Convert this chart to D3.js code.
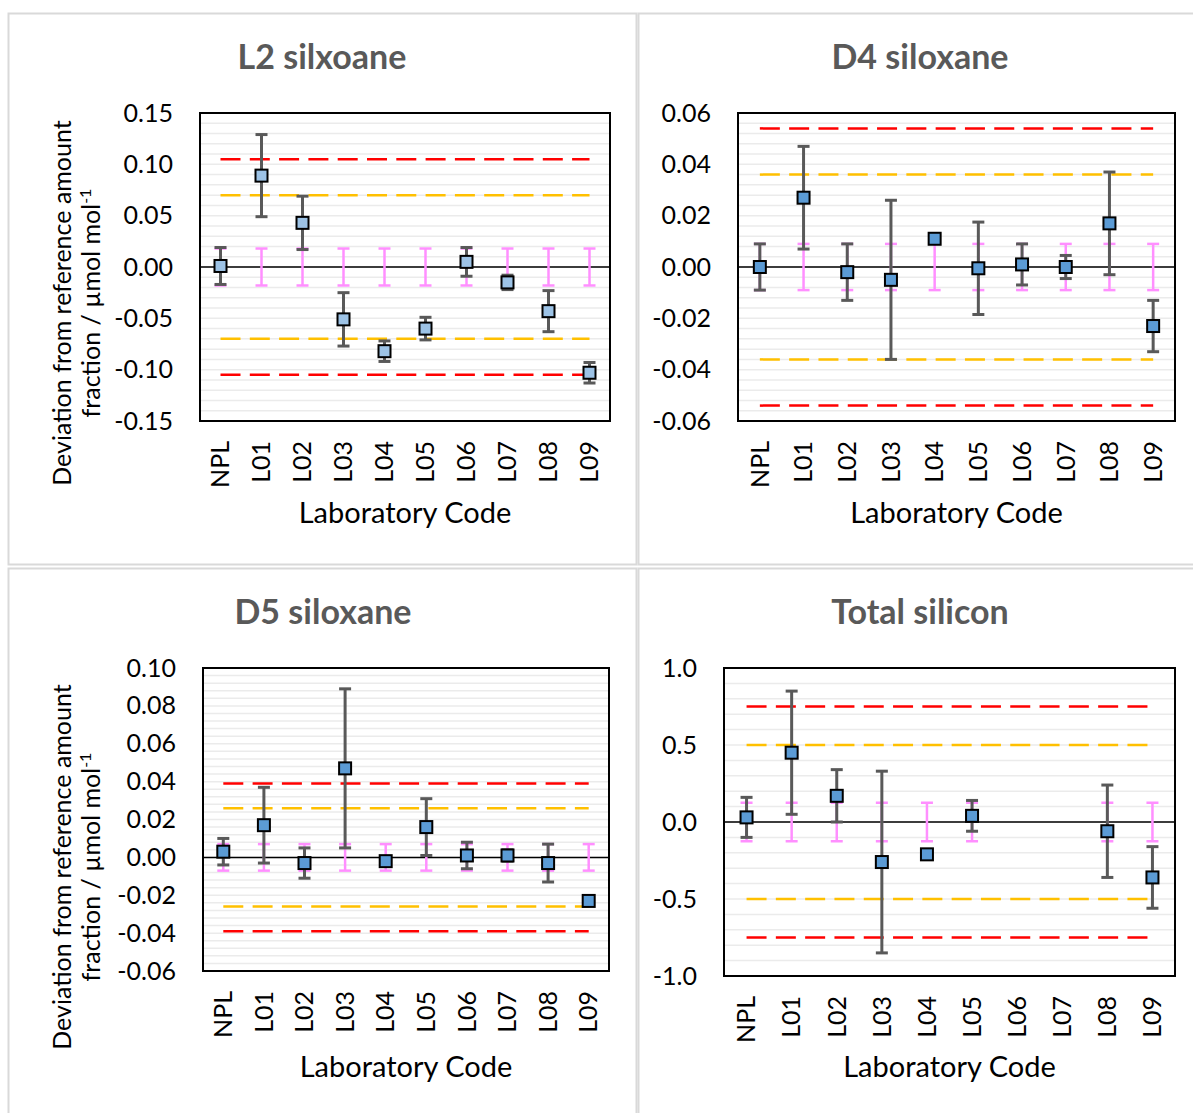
<!DOCTYPE html>
<html>
<head>
<meta charset="utf-8">
<script src="https://cdn.jsdelivr.net/npm/d3@7"></script>
<style>
  body { margin: 0; background: #fff; }
  svg { display: block; font-family: Lato, "Open Sans", sans-serif; }
</style>
</head>
<body>
<svg id="chart" width="1193" height="1113"></svg>
<script>
// lab codes (x categories)
var labs = ["NPL", "L01", "L02", "L03", "L04", "L05", "L06", "L07", "L08", "L09"];

// L2 siloxane: deviation and expanded uncertainty per lab
var l2Values = [0.001, 0.089, 0.043, -0.051, -0.082, -0.060, 0.005, -0.015, -0.043, -0.103];
var l2Errors = [0.018, 0.040, 0.026, 0.026, 0.010, 0.011, 0.014, 0.007, 0.020, 0.010];
var l2Limits = [0.105, 0.070];   // action (red), warning (orange)
var l2RefUnc = 0.018;             // reference uncertainty (pink)

// D4 siloxane
var d4Values = [0.000, 0.027, -0.002, -0.005, 0.011, -0.0005, 0.001, 0.000, 0.017, -0.023];
var d4Errors = [0.009, 0.020, 0.011, 0.031, null, 0.018, 0.008, 0.0045, 0.020, 0.010];
var d4Limits = [0.054, 0.036];
var d4RefUnc = 0.009;

// D5 siloxane
var d5Values = [0.003, 0.017, -0.003, 0.047, -0.002, 0.016, 0.001, 0.001, -0.003, -0.023];
var d5Errors = [0.007, 0.020, 0.008, 0.042, null, 0.015, 0.007, 0.003, 0.010, 0.002];
var d5Limits = [0.039, 0.026];
var d5RefUnc = 0.007;

// Total silicon (L06, L07 reported nothing)
var siValues = [0.03, 0.45, 0.17, -0.26, -0.21, 0.04, null, null, -0.06, -0.36];
var siErrors = [0.13, 0.40, 0.17, 0.59, null, 0.10, null, null, 0.30, 0.20];
var siLimits = [0.75, 0.50];
var siRefUnc = 0.125;

var panels = [
  { title: "L2 silxoane", values: l2Values, errors: l2Errors, limits: l2Limits, refUnc: l2RefUnc,
    domain: [-0.15, 0.15], step: 0.05, minor: 0.01, digits: 2, fill: "#9dc3e6",
    frame: [8, 13, 636, 564], plot: [200, 113, 610, 421], titleX: 322, titleY: 69,
    xTitleY: 523, yTitle: true, yTitleCy: 303 },
  { title: "D4 siloxane", values: d4Values, errors: d4Errors, limits: d4Limits, refUnc: d4RefUnc,
    domain: [-0.06, 0.06], step: 0.02, minor: 0.004, digits: 2, fill: "#5b9bd5",
    frame: [638, 13, 1210, 564], plot: [738, 113, 1175, 421], titleX: 920, titleY: 69,
    xTitleY: 523, yTitle: false },
  { title: "D5 siloxane", values: d5Values, errors: d5Errors, limits: d5Limits, refUnc: d5RefUnc,
    domain: [-0.06, 0.10], step: 0.02, minor: 0.004, digits: 2, fill: "#5b9bd5",
    frame: [8, 568, 636, 1125], plot: [203, 668, 609, 971], titleX: 323, titleY: 624,
    xTitleY: 1077, yTitle: true, yTitleCy: 867 },
  { title: "Total silicon", values: siValues, errors: siErrors, limits: siLimits, refUnc: siRefUnc,
    domain: [-1, 1], step: 0.5, minor: 0.1, digits: 1, fill: "#5b9bd5",
    frame: [638, 568, 1210, 1125], plot: [724, 668, 1175, 976], titleX: 920, titleY: 624,
    xTitleY: 1077, yTitle: false }
];

var svg = d3.select("#chart");

function fmt(d, digits) {
  if (Math.abs(d) < 1e-9) d = 0;
  return d.toFixed(digits);
}

function drawPanel(p) {
  var g = svg.append("g");
  var x0 = p.plot[0], y0 = p.plot[1], x1 = p.plot[2], y1 = p.plot[3];

  g.append("rect")
    .attr("x", p.frame[0] + 0.5).attr("y", p.frame[1] + 0.5)
    .attr("width", p.frame[2] - p.frame[0]).attr("height", p.frame[3] - p.frame[1])
    .attr("fill", "#fff").attr("stroke", "#d9d9d9").attr("stroke-width", 2);

  var x = d3.scaleBand().domain(labs).range([x0, x1]);
  var y = d3.scaleLinear().domain(p.domain).range([y1, y0]);
  var cx = function(d) { return x(d) + x.bandwidth() / 2; };

  // minor + major gridlines
  var n = Math.round((p.domain[1] - p.domain[0]) / p.minor);
  var grid = d3.range(1, n).map(function(i) { return p.domain[0] + i * p.minor; });
  g.append("g").selectAll("line").data(grid).enter().append("line")
    .attr("x1", x0).attr("x2", x1)
    .attr("y1", function(d) { return y(d); }).attr("y2", function(d) { return y(d); })
    .attr("stroke", "#ebebeb").attr("stroke-width", 1.5);

  // zero line
  g.append("line").attr("x1", x0).attr("x2", x1).attr("y1", y(0)).attr("y2", y(0))
    .attr("stroke", "#000").attr("stroke-width", 1.5);

  // action / warning limits
  var limColors = ["#ff0000", "#ffc000"];
  p.limits.forEach(function(lim, i) {
    [1, -1].forEach(function(s) {
      g.append("line")
        .attr("x1", cx(labs[0])).attr("x2", cx(labs[labs.length - 1]))
        .attr("y1", y(s * lim)).attr("y2", y(s * lim))
        .attr("stroke", limColors[i]).attr("stroke-width", 2.5)
        .attr("stroke-dasharray", "20,9.3");
    });
  });

  var rows = labs.map(function(l, i) { return { lab: l, v: p.values[i], e: p.errors[i] }; })
    .filter(function(d) { return d.v != null; });

  function errBar(sel, lo, hi, color, w) {
    sel.append("line").attr("x1", function(d) { return cx(d.lab); }).attr("x2", function(d) { return cx(d.lab); })
      .attr("y1", function(d) { return y(lo(d)); }).attr("y2", function(d) { return y(hi(d)); })
      .attr("stroke", color).attr("stroke-width", w);
    [lo, hi].forEach(function(f) {
      sel.append("line").attr("x1", function(d) { return cx(d.lab) - 6; }).attr("x2", function(d) { return cx(d.lab) + 6; })
        .attr("y1", function(d) { return y(f(d)); }).attr("y2", function(d) { return y(f(d)); })
        .attr("stroke", color).attr("stroke-width", w);
    });
  }

  // reference uncertainty (pink)
  var pink = g.append("g").selectAll("g").data(rows).enter().append("g");
  errBar(pink, function() { return -p.refUnc; }, function() { return p.refUnc; }, "#ff8fff", 2.5);

  // lab uncertainty (grey)
  var grey = g.append("g").selectAll("g").data(rows.filter(function(d) { return d.e != null; })).enter().append("g");
  errBar(grey, function(d) { return d.v - d.e; }, function(d) { return d.v + d.e; }, "#595959", 3);

  // plot border
  g.append("rect").attr("x", x0).attr("y", y0).attr("width", x1 - x0).attr("height", y1 - y0)
    .attr("fill", "none").attr("stroke", "#000").attr("stroke-width", 2);

  // markers
  g.append("g").selectAll("rect").data(rows).enter().append("rect")
    .attr("x", function(d) { return cx(d.lab) - 6; }).attr("y", function(d) { return y(d.v) - 6; })
    .attr("width", 12).attr("height", 12)
    .attr("fill", p.fill).attr("stroke", "#000").attr("stroke-width", 2);

  // y axis labels
  var nt = Math.round((p.domain[1] - p.domain[0]) / p.step);
  var ticks = d3.range(0, nt + 1).map(function(i) { return p.domain[0] + i * p.step; });
  var ya = g.append("g").attr("transform", "translate(" + x0 + ",0)")
    .call(d3.axisLeft(y).tickValues(ticks).tickSize(0).tickPadding(27)
      .tickFormat(function(d) { return fmt(d, p.digits); }));
  ya.select(".domain").remove();
  ya.selectAll("text").attr("fill", "#000").style("font-size", "25px").style("font-family", "Lato, sans-serif");

  // x axis labels, rotated
  var xa = g.append("g").attr("transform", "translate(0," + y1 + ")")
    .call(d3.axisBottom(x).tickSize(0));
  xa.select(".domain").remove();
  xa.selectAll("text")
    .attr("y", 0).attr("x", -20).attr("dy", "0.35em")
    .attr("transform", "rotate(-90)")
    .style("text-anchor", "end").attr("fill", "#000")
    .style("font-size", "25px").style("font-family", "Lato, sans-serif");

  g.append("text").attr("x", (x0 + x1) / 2).attr("y", p.xTitleY)
    .attr("text-anchor", "middle").style("font-size", "29px").text("Laboratory Code");

  g.append("text").attr("x", p.titleX).attr("y", p.titleY)
    .attr("text-anchor", "middle").attr("fill", "#595959")
    .style("font-size", "34px").style("font-weight", "bold").text(p.title);

  if (p.yTitle) {
    g.append("text").attr("transform", "translate(71," + p.yTitleCy + ") rotate(-90)")
      .attr("text-anchor", "middle").style("font-size", "25px")
      .text("Deviation from reference amount");
    var t2 = g.append("text").attr("transform", "translate(100," + p.yTitleCy + ") rotate(-90)")
      .attr("text-anchor", "middle").style("font-size", "25px");
    t2.append("tspan").text("fraction / µmol mol");
    t2.append("tspan").attr("baseline-shift", "super").style("font-size", "16px").text("-1");
  }
}

panels.forEach(drawPanel);
</script>
</body>
</html>
